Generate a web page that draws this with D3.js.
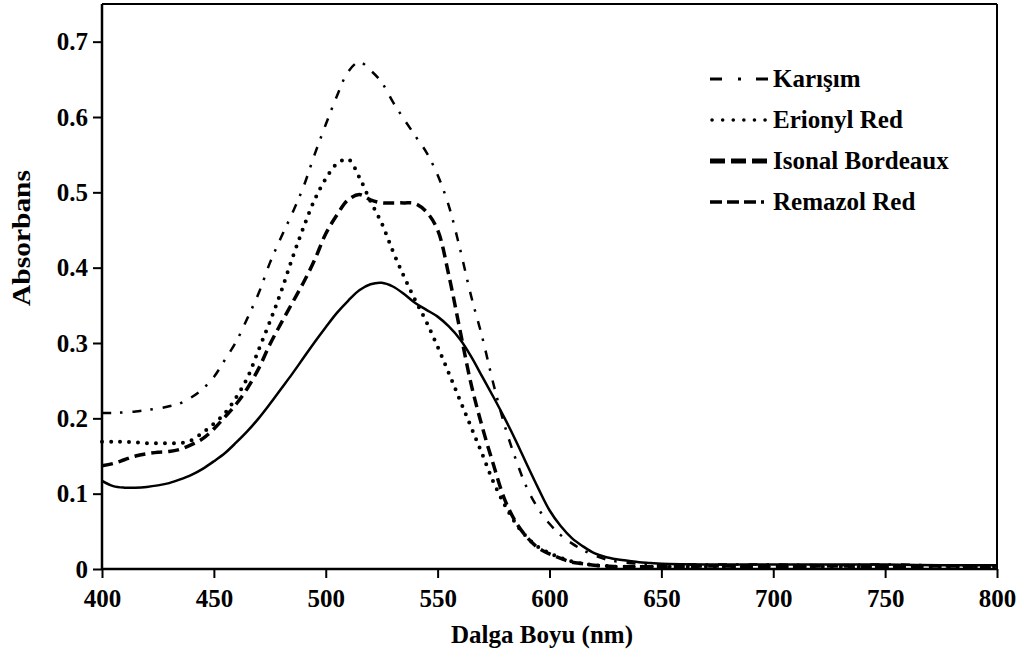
<!DOCTYPE html>
<html>
<head>
<meta charset="utf-8">
<script src="https://cdn.jsdelivr.net/npm/d3@7"></script>
<style>
body { margin: 0; background: #fff; }
text { font-family: "Liberation Serif", "Times New Roman", serif; font-weight: bold; }
</style>
</head>
<body>
<div id="canvas"></div>
<script>
// dalga boyu (nm)
var wavelengths = [400, 405, 410, 415, 420, 425, 430, 435, 440, 445,
	450, 455, 460, 465, 470, 475, 480, 485, 490, 495,
	500, 505, 510, 515, 520, 525, 530, 535, 540, 545,
	550, 555, 560, 565, 570, 575, 580, 585, 590, 595,
	600, 605, 610, 615, 620, 625, 630, 635, 640, 645,
	650, 675, 700, 725, 750, 775, 800];

var karisim = [0.207, 0.207, 0.208, 0.209, 0.211, 0.213, 0.216, 0.220, 0.228, 0.239,
	0.255, 0.278, 0.302, 0.333, 0.366, 0.406, 0.440, 0.472, 0.507, 0.550,
	0.590, 0.628, 0.660, 0.673, 0.662, 0.646, 0.620, 0.597, 0.575, 0.553,
	0.523, 0.482, 0.425, 0.362, 0.307, 0.245, 0.190, 0.145, 0.107, 0.080,
	0.060, 0.045, 0.034, 0.025, 0.018, 0.013, 0.010, 0.008, 0.007, 0.006,
	0.006, 0.006, 0.006, 0.005, 0.006, 0.005, 0.005];

var erionyl = [0.169, 0.169, 0.169, 0.168, 0.167, 0.167, 0.167, 0.167, 0.171, 0.181,
	0.193, 0.207, 0.228, 0.254, 0.291, 0.328, 0.368, 0.412, 0.453, 0.490,
	0.518, 0.538, 0.544, 0.520, 0.488, 0.459, 0.422, 0.388, 0.357, 0.328,
	0.295, 0.260, 0.224, 0.188, 0.152, 0.115, 0.085, 0.060, 0.042, 0.029,
	0.021, 0.015, 0.010, 0.007, 0.005, 0.004, 0.003, 0.003, 0.003, 0.003,
	0.003, 0.003, 0.003, 0.003, 0.003, 0.003, 0.003];

var isonal = [0.137, 0.140, 0.145, 0.150, 0.153, 0.155, 0.156, 0.159, 0.165, 0.173,
	0.186, 0.202, 0.219, 0.240, 0.266, 0.298, 0.326, 0.353, 0.380, 0.410,
	0.445, 0.470, 0.490, 0.497, 0.490, 0.486, 0.486, 0.486, 0.485, 0.474,
	0.450, 0.390, 0.317, 0.245, 0.188, 0.138, 0.092, 0.062, 0.042, 0.028,
	0.020, 0.014, 0.009, 0.007, 0.005, 0.004, 0.003, 0.003, 0.003, 0.003,
	0.003, 0.004, 0.003, 0.004, 0.003, 0.004, 0.003];

var remazol = [0.117, 0.110, 0.108, 0.108, 0.109, 0.111, 0.114, 0.119, 0.125, 0.133,
	0.143, 0.154, 0.168, 0.183, 0.200, 0.219, 0.239, 0.259, 0.280, 0.301,
	0.321, 0.340, 0.356, 0.370, 0.378, 0.380, 0.375, 0.365, 0.353, 0.344,
	0.335, 0.322, 0.305, 0.282, 0.255, 0.228, 0.200, 0.170, 0.138, 0.107,
	0.078, 0.057, 0.041, 0.030, 0.021, 0.016, 0.013, 0.011, 0.009, 0.008,
	0.007, 0.006, 0.006, 0.006, 0.006, 0.005, 0.005];

var series_names = ['Karışım', 'Erionyl Red', 'Isonal Bordeaux', 'Remazol Red'];
var x_ticks = [400, 450, 500, 550, 600, 650, 700, 750, 800];
var y_ticks = [0, 0.1, 0.2, 0.3, 0.4, 0.5, 0.6, 0.7];

/* ------------- d3 definitions ---------- */
var width = 1024,
	height = 657;

var x_scale = d3.scaleLinear()
	.domain([400, 800])
	.range([102, 997]);

var y_scale = d3.scaleLinear()
	.domain([0, 0.75])
	.range([569, 4]);

var lineFunction = d3.line()
	.x(function(d) { return x_scale(d.x); })
	.y(function(d) { return y_scale(d.y); })
	.curve(d3.curveCatmullRom);

function to_points(values) {
	return wavelengths.map(function(w, i) { return {x: w, y: values[i]}; });
}

// estilo de cada curva (la de Remazol sale continua en la figura)
var styles = [
	{ values: karisim, dash: '9,9,2.5,10', width: 2.5, cap: 'butt' },
	{ values: erionyl, dash: '0,9', width: 4, cap: 'round' },
	{ values: isonal, dash: '11,6', width: 3.5, cap: 'butt' },
	{ values: remazol, dash: null, width: 2.5, cap: 'butt' }
];

var canvas = d3.select('#canvas')
	.append('svg')
	.attr('width', width)
	.attr('height', height);

styles.forEach(function(s) {
	canvas.append('path')
		.attr('d', lineFunction(to_points(s.values)))
		.attr('fill', 'none')
		.attr('stroke', 'black')
		.attr('stroke-width', s.width)
		.attr('stroke-linecap', s.cap)
		.attr('stroke-linejoin', 'round')
		.attr('stroke-dasharray', s.dash);
});

// marco
canvas.append('line')
	.attr('x1', 102).attr('x2', 997).attr('y1', 4).attr('y2', 4)
	.attr('stroke', 'black').attr('stroke-width', 2);
canvas.append('line')
	.attr('x1', 997).attr('x2', 997).attr('y1', 4).attr('y2', 569)
	.attr('stroke', 'black').attr('stroke-width', 2);

var x_axis = d3.axisBottom(x_scale)
	.tickValues(x_ticks)
	.tickSizeInner(9)
	.tickSizeOuter(0)
	.tickPadding(11);

var y_axis = d3.axisLeft(y_scale)
	.tickValues(y_ticks)
	.tickFormat(function(d) { return d === 0 ? '0' : d3.format('.1f')(d); })
	.tickSizeInner(9)
	.tickSizeOuter(0)
	.tickPadding(5);

var gx = canvas.append('g')
	.attr('transform', 'translate(0, 569)')
	.call(x_axis);

var gy = canvas.append('g')
	.attr('transform', 'translate(102, 0)')
	.call(y_axis);

[gx, gy].forEach(function(g) {
	g.select('.domain').attr('stroke', 'black').attr('stroke-width', 2.5);
	g.selectAll('.tick line').attr('stroke', 'black').attr('stroke-width', 2);
	g.selectAll('.tick text')
		.attr('fill', 'black')
		.style('font-family', '"Liberation Serif", serif')
		.style('font-weight', 'bold')
		.style('font-size', '25px');
});
gy.select('.domain').attr('d', 'M0,4V569');
gx.select('.domain').attr('d', 'M102,0H997');

canvas.append('text')
	.attr('x', 542)
	.attr('y', 643)
	.attr('text-anchor', 'middle')
	.style('font-size', '25px')
	.text('Dalga Boyu (nm)');

canvas.append('text')
	.attr('transform', 'translate(30, 238) rotate(-90)')
	.attr('text-anchor', 'middle')
	.attr('textLength', 136)
	.attr('lengthAdjust', 'spacingAndGlyphs')
	.style('font-size', '25px')
	.text('Absorbans');

/* ------------ leyenda ------------ */
var legend_dash = ['12,16,3,15,12', '0.1,10.5', '15,6', '12,5,12,5,12,5,3'];
var legend_width = [3, 3.5, 5, 3.5];
var legend_cap = ['butt', 'round', 'butt', 'butt'];
var legend_y = [79, 120, 161, 202];

series_names.forEach(function(name, i) {
	canvas.append('line')
		.attr('x1', i === 1 ? 712 : 710)
		.attr('x2', 768)
		.attr('y1', legend_y[i])
		.attr('y2', legend_y[i])
		.attr('stroke', 'black')
		.attr('stroke-width', legend_width[i])
		.attr('stroke-linecap', legend_cap[i])
		.attr('stroke-dasharray', legend_dash[i]);
	canvas.append('text')
		.attr('x', 773)
		.attr('y', legend_y[i] + 8)
		.style('font-size', '25px')
		.text(name);
});
</script>
</body>
</html>
